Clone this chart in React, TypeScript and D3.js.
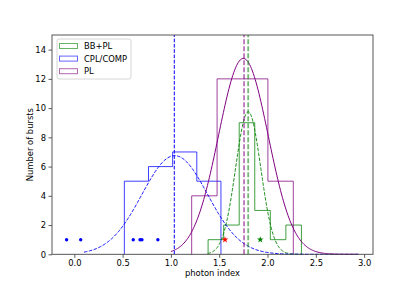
import { useEffect, useRef } from "react"
import * as d3 from "d3"

// histogram bin edges and counts per spectral model
const bbplEdges = [1.385, 1.546, 1.707, 1.868, 2.029, 2.19, 2.351]
const bbplCounts = [1, 2, 9, 3, 1, 2]
const cplEdges = [0.518, 0.768, 1.018, 1.268, 1.518]
const cplCounts = [5, 6, 7, 5]
const plEdges = [1.215, 1.478, 1.741, 2.004, 2.267]
const plCounts = [4, 12, 12, 5]

// fitted gaussians: amplitude, mean, sigma, plotted range
const bbplFit = { amp: 9.75, mu: 1.8, sigma: 0.13, from: 1.38, to: 2.35 }
const cplFit = { amp: 6.75, mu: 1.04, sigma: 0.34, from: 0.1, to: 2.94 }
const plFit = { amp: 13.4, mu: 1.75, sigma: 0.257, from: 1.0, to: 2.94 }

// mean lines
const bbplMean = 1.8
const cplMean = 1.035
const plMean = 1.757

// individual bursts drawn as markers
const cplPoints = [-0.08, 0.066, 0.61, 0.68, 0.7, 0.865]
const redStar = [1.56, 1]
const greenStar = [1.925, 1]

const xTicks = [0, 0.5, 1, 1.5, 2, 2.5, 3]
const yTicks = [0, 2, 4, 6, 8, 10, 12, 14]

const legendItems = [
  { label: "BB+PL", color: "green" },
  { label: "CPL/COMP", color: "blue" },
  { label: "PL", color: "purple" },
]

const W = 415
const H = 291
const M = { top: 35, right: 42, bottom: 36.7, left: 52 }
const FONT = "DejaVu Sans, sans-serif"
const FS = 8.4

const Chart = () => {
  const svgRef = useRef<SVGSVGElement | null>(null)

  useEffect(() => {
    const svg = d3.select(svgRef.current)
    svg.selectAll("*").remove()

    const x = d3.scaleLinear().domain([-0.231, 3.092]).range([M.left, W - M.right])
    const y = d3.scaleLinear().domain([0, 15]).range([H - M.bottom, M.top])

    const plot = svg.append("g")

    const stepPath = (edges: number[], counts: number[]) => {
      const pts: [number, number][] = [[edges[0], 0]]
      counts.forEach((c, i) => {
        pts.push([edges[i], c])
        pts.push([edges[i + 1], c])
      })
      pts.push([edges[edges.length - 1], 0])
      return d3.line<[number, number]>().x(d => x(d[0])).y(d => y(d[1]))(pts)
    }

    const gauss = (f: typeof cplFit) => {
      const xs = d3.range(f.from, f.to + 1e-9, (f.to - f.from) / 200)
      const pts = xs.map(v => [v, f.amp * Math.exp(-((v - f.mu) ** 2) / (2 * f.sigma ** 2))] as [number, number])
      return d3.line<[number, number]>().x(d => x(d[0])).y(d => y(d[1]))(pts)
    }

    // histograms
    const hists = [
      { e: bbplEdges, c: bbplCounts, color: "green" },
      { e: cplEdges, c: cplCounts, color: "blue" },
      { e: plEdges, c: plCounts, color: "purple" },
    ]
    plot.selectAll("path.hist")
      .data(hists)
      .join("path")
        .attr("class", "hist")
        .attr("d", d => stepPath(d.e, d.c))
        .attr("fill", "none")
        .attr("stroke", d => d.color)
        .attr("stroke-opacity", 0.75)
        .attr("stroke-width", 1)

    // fitted curves
    plot.append("path").attr("d", gauss(bbplFit))
      .attr("fill", "none").attr("stroke", "green").attr("stroke-width", 0.9)
      .attr("stroke-dasharray", "3.5,1.5")
    plot.append("path").attr("d", gauss(cplFit))
      .attr("fill", "none").attr("stroke", "blue").attr("stroke-width", 0.9)
      .attr("stroke-dasharray", "3.5,1.5")
    plot.append("path").attr("d", gauss(plFit))
      .attr("fill", "none").attr("stroke", "purple").attr("stroke-width", 1)

    // mean lines
    plot.append("line")
      .attr("x1", x(cplMean)).attr("x2", x(cplMean))
      .attr("y1", y(0)).attr("y2", y(15))
      .attr("stroke", "blue").attr("stroke-width", 1)
      .attr("stroke-dasharray", "3.7,1.6")
    plot.append("line")
      .attr("x1", x(plMean)).attr("x2", x(plMean))
      .attr("y1", y(0)).attr("y2", y(15))
      .attr("stroke", "purple").attr("stroke-opacity", 0.55).attr("stroke-width", 1.8)
      .attr("stroke-dasharray", "5,2")
    plot.append("line")
      .attr("x1", x(bbplMean)).attr("x2", x(bbplMean))
      .attr("y1", y(0)).attr("y2", y(15))
      .attr("stroke", "green").attr("stroke-opacity", 0.55).attr("stroke-width", 1.8)
      .attr("stroke-dasharray", "5,2")

    // markers
    plot.selectAll("circle.pt")
      .data(cplPoints)
      .join("circle")
        .attr("class", "pt")
        .attr("cx", d => x(d))
        .attr("cy", y(1))
        .attr("r", 1.7)
        .attr("fill", "blue")
    const star = d3.symbol().type(d3.symbolStar).size(14)
    plot.append("path").attr("d", star())
      .attr("transform", `translate(${x(redStar[0])},${y(redStar[1])})`)
      .attr("fill", "red")
    plot.append("path").attr("d", star())
      .attr("transform", `translate(${x(greenStar[0])},${y(greenStar[1])})`)
      .attr("fill", "green")

    // axes
    const xAxis = svg.append("g")
      .attr("transform", `translate(0,${H - M.bottom})`)
      .call(d3.axisBottom(x).tickValues(xTicks).tickFormat(d3.format(".1f")).tickSize(3.5).tickPadding(2.5))
    const yAxis = svg.append("g")
      .attr("transform", `translate(${M.left},0)`)
      .call(d3.axisLeft(y).tickValues(yTicks).tickSize(3.5).tickPadding(2.5))
    ;[xAxis, yAxis].forEach(g => {
      g.select(".domain").remove()
      g.selectAll("text").attr("font-family", FONT).attr("font-size", FS).attr("fill", "#000")
      g.selectAll("line").attr("stroke", "#333").attr("stroke-width", 0.8)
    })

    // frame
    svg.append("rect")
      .attr("x", M.left).attr("y", M.top)
      .attr("width", W - M.left - M.right).attr("height", H - M.top - M.bottom)
      .attr("fill", "none").attr("stroke", "#444").attr("stroke-width", 0.9)

    // axis labels
    svg.append("text")
      .attr("x", (M.left + W - M.right) / 2).attr("y", 276)
      .attr("text-anchor", "middle")
      .attr("font-family", FONT).attr("font-size", FS)
      .text("photon index")
    svg.append("text")
      .attr("transform", `translate(33,${(M.top + H - M.bottom) / 2}) rotate(-90)`)
      .attr("text-anchor", "middle")
      .attr("font-family", FONT).attr("font-size", FS)
      .text("Number of bursts")

    // legend
    const lg = svg.append("g").attr("transform", "translate(57,39)")
    lg.append("rect")
      .attr("width", 74).attr("height", 40).attr("rx", 2)
      .attr("fill", "#fff").attr("fill-opacity", 0.8)
      .attr("stroke", "#ccc").attr("stroke-width", 0.8)
    const items = lg.selectAll("g.item")
      .data(legendItems)
      .join("g")
        .attr("class", "item")
        .attr("transform", (_, i) => `translate(0,${7 + i * 12.6})`)
    items.append("rect")
      .attr("x", 2.5).attr("y", -2.5).attr("width", 18).attr("height", 5)
      .attr("fill", "none").attr("stroke", d => d.color).attr("stroke-opacity", 0.6).attr("stroke-width", 1)
    items.append("text")
      .attr("x", 27).attr("dy", "0.35em")
      .attr("font-family", FONT).attr("font-size", FS)
      .text(d => d.label)
  }, [])

  return <svg ref={svgRef} width={W} height={H} style={{ position: "absolute", left: 0, top: 0, background: "#fff" }} />
}

export default function App() {
  return <Chart />
}
